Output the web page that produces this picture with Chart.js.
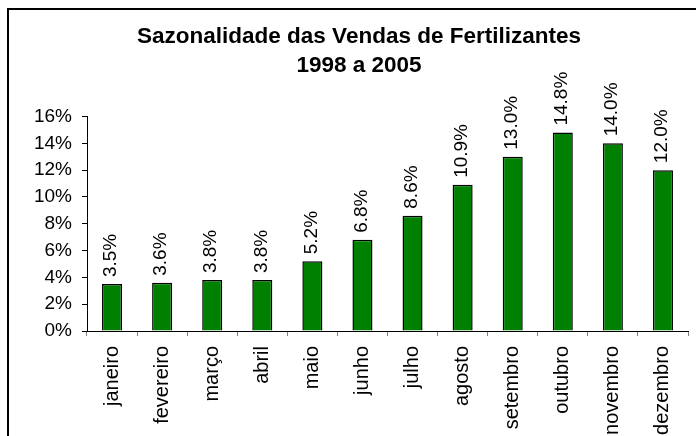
<!DOCTYPE html>
<html>
<head>
<meta charset="utf-8">
<script src="https://cdn.jsdelivr.net/npm/chart.js@4"></script>
<style>
    html, body { margin: 0; padding: 0; background: #fff; overflow: hidden; width: 696px; height: 436px; }
    #frame { position: absolute; left: 7px; top: 8px; width: 700px; height: 440px; border-left: 2px solid #000; border-top: 2px solid #000; }
    #chart { display: block; }
</style>
</head>
<body>
<div id="frame"><canvas id="chart" width="700" height="440"></canvas></div>
<script>
const meses = ['janeiro', 'fevereiro', 'março', 'abril', 'maio', 'junho', 'julho', 'agosto', 'setembro', 'outubro', 'novembro', 'dezembro'];
const vendas = [3.5, 3.6, 3.8, 3.8, 5.2, 6.8, 8.6, 10.9, 13.0, 14.8, 14.0, 12.0];
const tituloLinhas = ['Sazonalidade das Vendas de Fertilizantes', '1998 a 2005'];
const yMax = 16;
const yStep = 2;

const fonte = "'Liberation Sans', Arial, sans-serif";

// rotulos verticais acima das barras
const rotulosBarras = {
    id: 'rotulosBarras',
    afterDatasetsDraw(chart) {
        const ctx = chart.ctx;
        const meta = chart.getDatasetMeta(0);
        ctx.save();
        ctx.font = '19px ' + fonte;
        ctx.fillStyle = '#000';
        ctx.textAlign = 'left';
        ctx.textBaseline = 'middle';
        meta.data.forEach(function (bar, i) {
            ctx.save();
            ctx.translate(bar.x - 1, bar.y - 7);
            ctx.rotate(-Math.PI / 2);
            ctx.fillText(vendas[i].toFixed(1) + '%', 0, 0);
            ctx.restore();
        });
        ctx.restore();
    }
};

new Chart(document.getElementById('chart'), {
    type: 'bar',
    data: {
        labels: meses,
        datasets: [{
            data: vendas,
            backgroundColor: '#008000',
            borderColor: '#000',
            borderWidth: 1.5,
            barPercentage: 0.4,
            categoryPercentage: 1
        }]
    },
    options: {
        responsive: false,
        animation: false,
        layout: { padding: 0 },
        plugins: {
            legend: { display: false },
            tooltip: { enabled: false },
            title: {
                display: true,
                text: tituloLinhas,
                color: '#000',
                font: { family: fonte, size: 22.5, weight: 'bold', lineHeight: 1.3 },
                padding: { top: 12, bottom: 36 }
            }
        },
        scales: {
            x: {
                grid: { display: true, drawOnChartArea: false, drawTicks: true, tickLength: 5, color: '#808080', offset: true },
                border: { display: true, color: '#000', width: 1 },
                ticks: { color: '#000', font: { family: fonte, size: 20 }, maxRotation: 90, minRotation: 90, padding: 10, autoSkip: false },
                afterFit(scale) { scale.height = 119; }
            },
            y: {
                min: 0,
                max: yMax,
                grid: { display: true, drawOnChartArea: false, drawTicks: true, tickLength: 5, color: '#000' },
                border: { display: true, color: '#000', width: 1 },
                ticks: {
                    stepSize: yStep,
                    color: '#000',
                    font: { family: fonte, size: 19 },
                    padding: 10,
                    callback: v => v + '%'
                },
                afterFit(scale) { scale.width = 78; }
            },
            yDir: {
                position: 'right',
                display: true,
                grid: { display: false },
                border: { display: false },
                ticks: { display: false },
                afterFit(scale) { scale.width = 21; }
            }
        }
    },
    plugins: [rotulosBarras]
});
</script>
</body>
</html>
